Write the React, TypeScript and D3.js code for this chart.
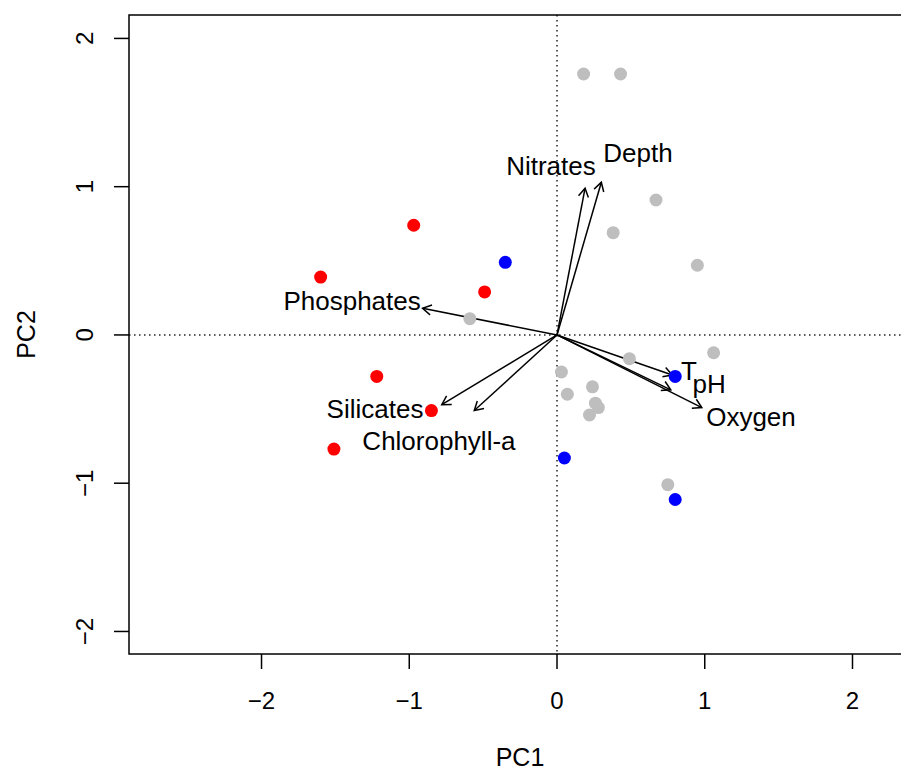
import React from 'react';
import * as d3 from 'd3';

// sample scores on PC1 / PC2, by group
const redX = [-0.97, -1.6, -0.49, -1.22, -0.85, -1.51];
const redY = [0.74, 0.39, 0.29, -0.28, -0.51, -0.77];
const blueX = [-0.35, 0.8, 0.05, 0.8];
const blueY = [0.49, -0.28, -0.83, -1.11];
const greyX = [0.18, 0.43, 0.67, 0.38, 0.95, -0.59, 0.49, 1.06, 0.03, 0.07, 0.24, 0.26, 0.28, 0.22, 0.75];
const greyY = [1.76, 1.76, 0.91, 0.69, 0.47, 0.11, -0.16, -0.12, -0.25, -0.4, -0.35, -0.46, -0.49, -0.54, -1.01];

// variable loadings (arrow tips) and where their labels sit
const varNames = ['Nitrates', 'Depth', 'Phosphates', 'Silicates', 'Chlorophyll-a', 'T', 'pH', 'Oxygen'];
const varX = [0.19, 0.3, -0.91, -0.78, -0.56, 0.78, 0.77, 0.98];
const varY = [0.99, 1.03, 0.18, -0.47, -0.51, -0.27, -0.37, -0.49];
const labelX = [-0.041, 0.548, -1.387, -1.232, -0.799, 0.893, 1.03, 1.313];
const labelY = [1.14, 1.228, 0.229, -0.499, -0.715, -0.243, -0.331, -0.553];

const xTicks = [-2, -1, 0, 1, 2];
const yTicks = [-2, -1, 0, 1, 2];

const W = 901;
const H = 769;
const left = 129, right = 911, top = 15, bottom = 654;
const font = '"Liberation Sans", Arial, Helvetica, sans-serif';

const App = () => {
  const x = d3.scaleLinear().domain([-2.897, 2.396]).range([left, right]);
  const y = d3.scaleLinear().domain([-2.152, 2.158]).range([bottom, top]);

  const pts = (xs: number[], ys: number[], col: string) =>
    xs.map((v, i) => <circle key={col + i} cx={x(v)} cy={y(ys[i])} r={6.5} fill={col} />);

  const arrow = (i: number) => {
    const x0 = x(0), y0 = y(0);
    const x1 = x(varX[i]), y1 = y(varY[i]);
    const a = Math.atan2(y1 - y0, x1 - x0);
    const len = 10, ang = Math.PI / 6;
    const h1 = [x1 - len * Math.cos(a - ang), y1 - len * Math.sin(a - ang)];
    const h2 = [x1 - len * Math.cos(a + ang), y1 - len * Math.sin(a + ang)];
    const line = d3.line();
    return (
      <g key={'a' + i} stroke="#000" strokeWidth={1.5} fill="none">
        <path d={line([[x0, y0], [x1, y1]]) || ''} />
        <path d={line([h1 as [number, number], [x1, y1], h2 as [number, number]]) || ''} />
      </g>
    );
  };

  return (
    <svg width={W} height={H} style={{ position: 'absolute', left: 0, top: 0, background: '#fff' }}
      fontFamily={font}>
      <rect x={0} y={0} width={W} height={H} fill="#fff" />
      {/* dotted reference lines */}
      <line x1={x(0)} x2={x(0)} y1={top} y2={bottom} stroke="#222" strokeWidth={1.5} strokeDasharray="1.5 3.5" />
      <line x1={left} x2={right} y1={y(0)} y2={y(0)} stroke="#222" strokeWidth={1.5} strokeDasharray="1.5 3.5" />

      {varNames.map((_, i) => arrow(i))}

      {pts(greyX, greyY, '#BEBEBE')}
      {pts(redX, redY, '#FF0000')}
      {pts(blueX, blueY, '#0000FF')}

      {varNames.map((n, i) => (
        <text key={'l' + n} x={x(labelX[i])} y={y(labelY[i])} dy="0.35em" textAnchor="middle"
          fontSize={26} fill="#000">{n}</text>
      ))}

      {/* box */}
      <rect x={left} y={top} width={right - left} height={bottom - top} fill="none" stroke="#000" strokeWidth={1.5} />

      {/* x axis */}
      {xTicks.map(t => (
        <g key={'xt' + t}>
          <line x1={x(t)} x2={x(t)} y1={bottom} y2={bottom + 15} stroke="#000" strokeWidth={1.5} />
          <text x={x(t)} y={701} dy="0.35em" textAnchor="middle" fontSize={24}>{t < 0 ? '\u2212' + Math.abs(t) : t}</text>
        </g>
      ))}
      {/* y axis */}
      {yTicks.map(t => (
        <g key={'yt' + t}>
          <line x1={left - 15} x2={left} y1={y(t)} y2={y(t)} stroke="#000" strokeWidth={1.5} />
          <text transform={`translate(85,${y(t)}) rotate(-90)`} dy="0.35em" textAnchor="middle" fontSize={24}>
            {t < 0 ? '\u2212' + Math.abs(t) : t}
          </text>
        </g>
      ))}

      <text x={(left + right) / 2} y={757} dy="0.35em" textAnchor="middle" fontSize={25}>PC1</text>
      <text transform={`translate(26,${(top + bottom) / 2}) rotate(-90)`} dy="0.35em" textAnchor="middle" fontSize={25}>PC2</text>
    </svg>
  );
};

export default App;
